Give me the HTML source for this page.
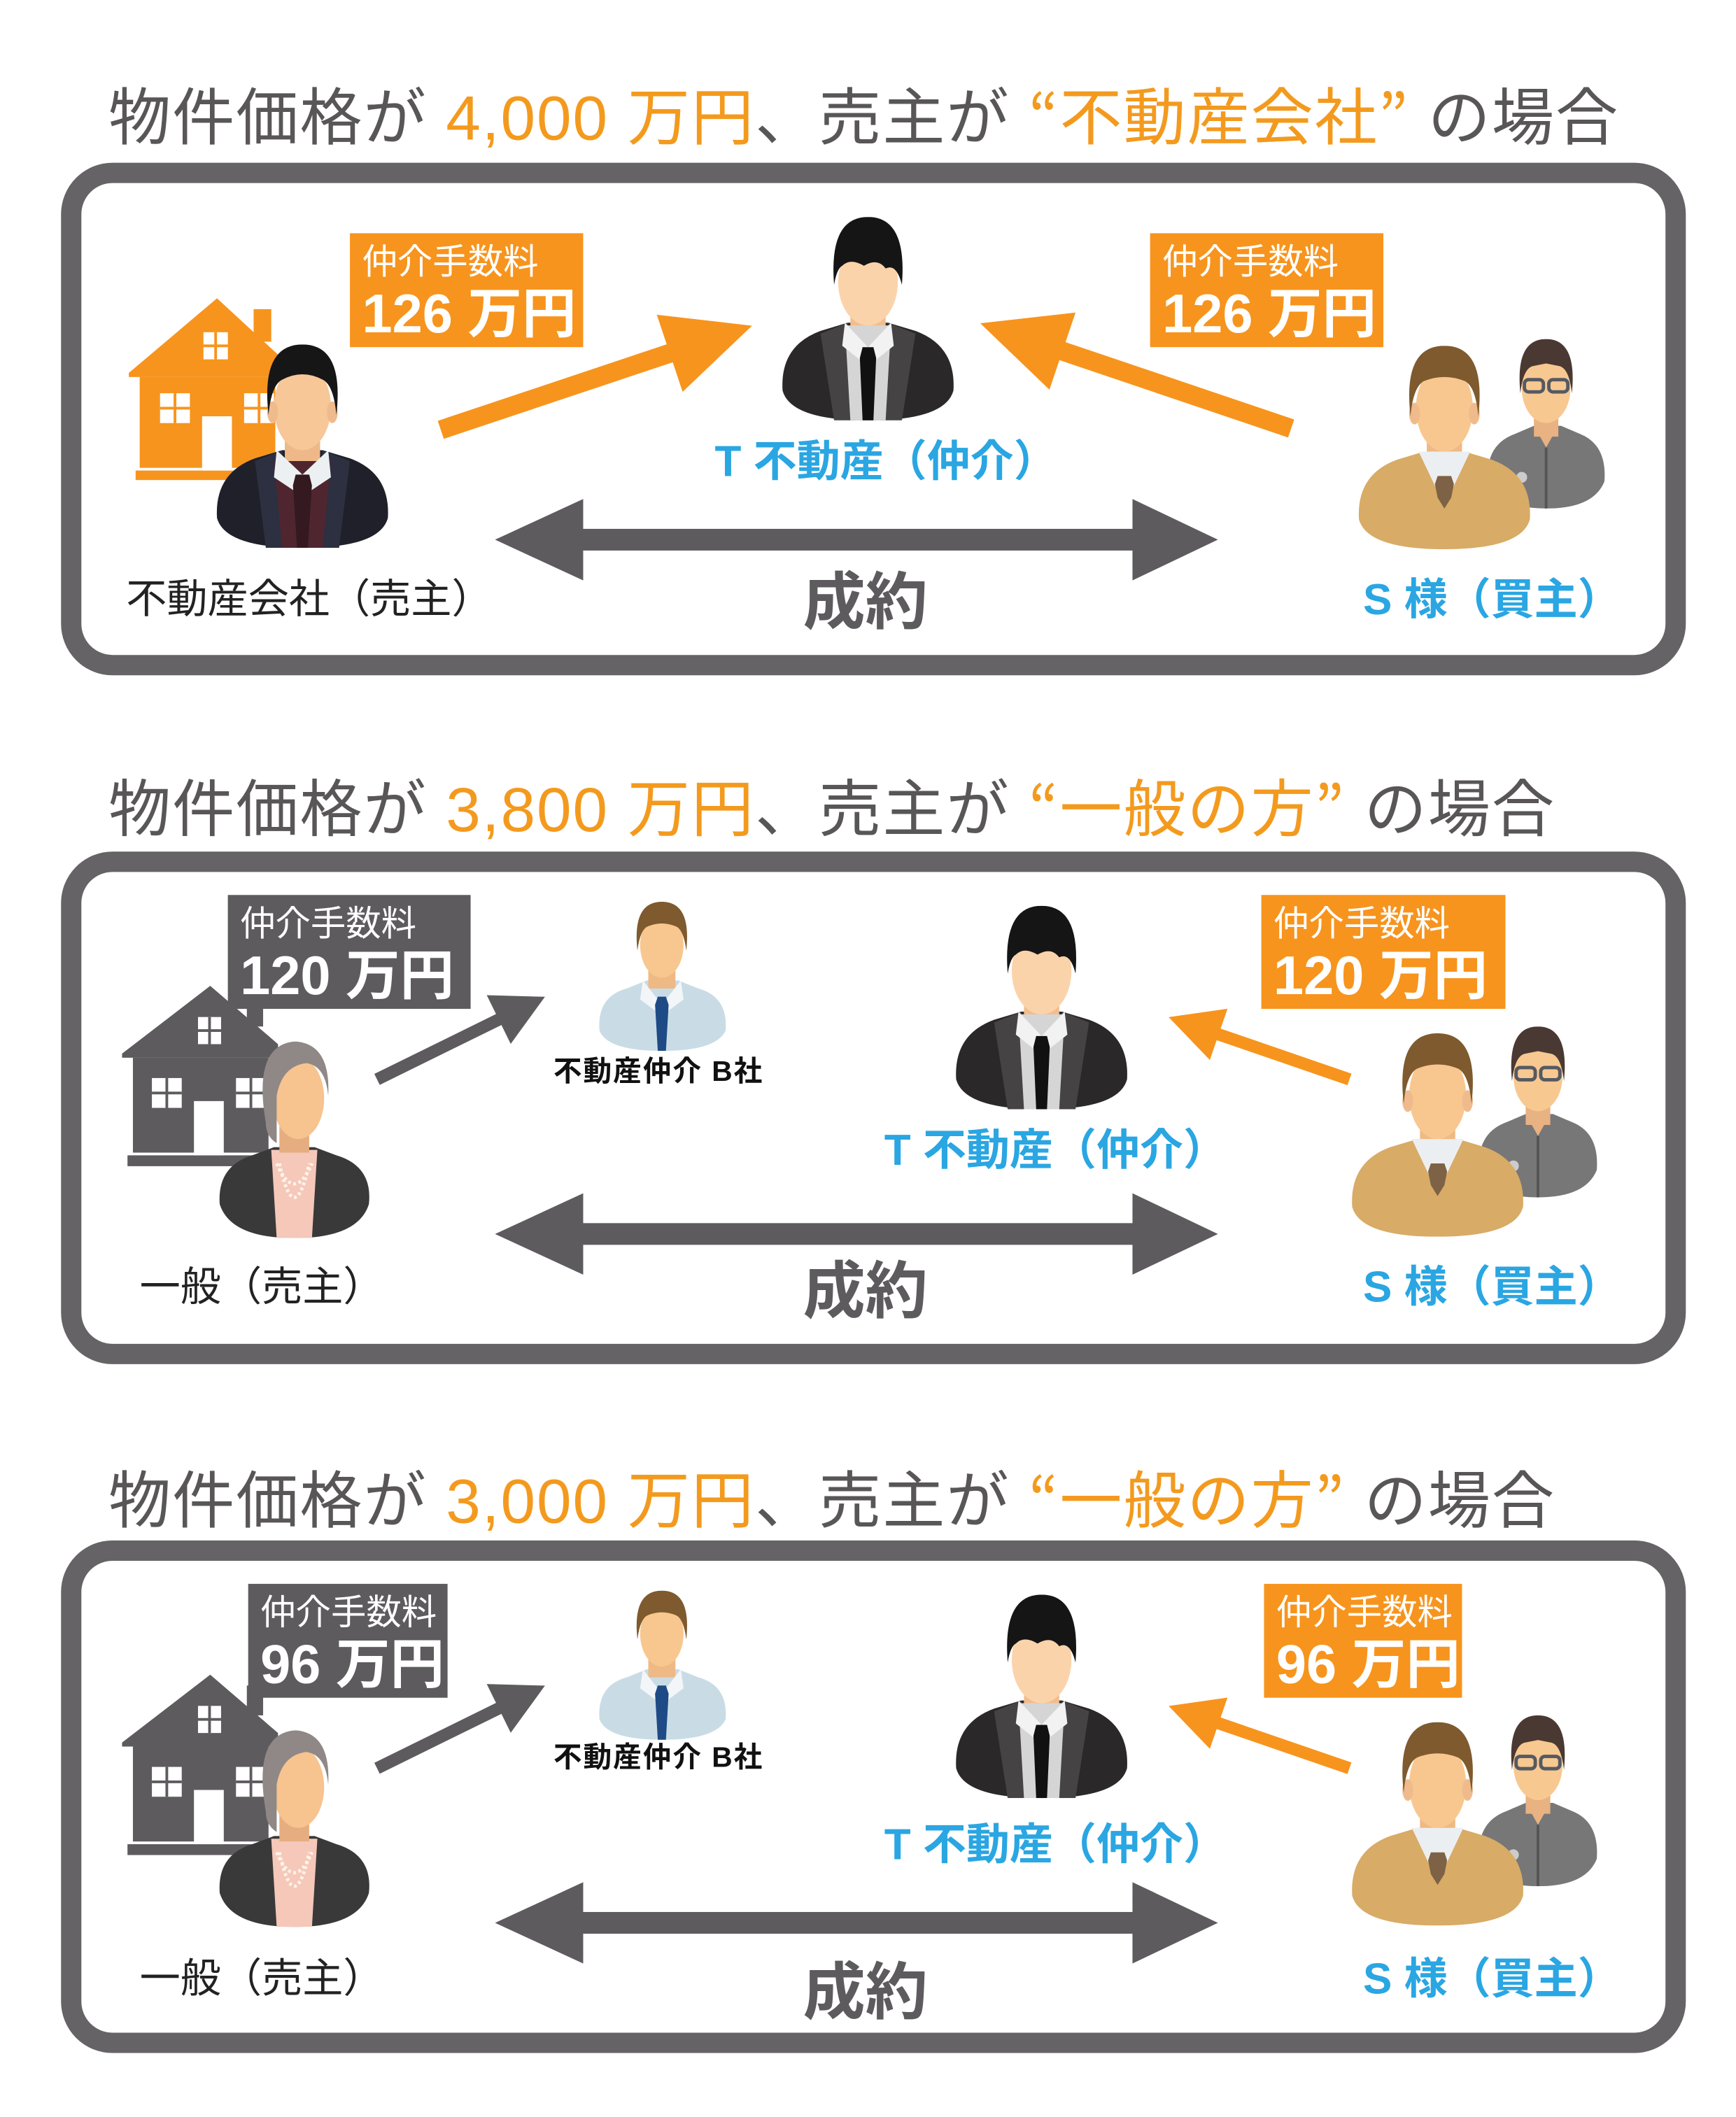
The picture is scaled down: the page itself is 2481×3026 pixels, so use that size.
<!DOCTYPE html>
<html><head><meta charset="utf-8">
<style>
html,body{margin:0;padding:0;background:#fff;}
body{width:2481px;height:3026px;overflow:hidden;position:relative;}
#s{position:absolute;left:0;top:0;width:1280px;height:1561px;transform:scale(1.93828);transform-origin:0 0;font-family:"Liberation Sans","Noto Sans CJK JP",sans-serif;}
.t{position:absolute;white-space:nowrap;line-height:1;}
.title{font-size:46px;color:#595657;left:80px;letter-spacing:1px;}
.o{color:#f39a1e;}
.q{font-family:"Noto Sans CJK JP",sans-serif;}
.fee{position:absolute;color:#fff;}
.fee .a{position:absolute;left:9px;top:8px;font-size:26px;line-height:1;white-space:nowrap;}
.fee .b{position:absolute;left:9px;top:40px;font-size:40px;font-weight:bold;line-height:1;white-space:nowrap;}
.blue{color:#2aa6e2;font-weight:bold;font-size:32px;}
.deal{color:#5e5b5f;font-weight:bold;font-size:46px;}
.sel{color:#222;font-size:30px;}
.bco{color:#111;font-weight:bold;font-size:21px;letter-spacing:1px;}
.panel{position:absolute;left:45px;width:1198px;height:378px;box-sizing:border-box;border:15px solid #666367;border-radius:38px;}
svg{position:absolute;left:0;top:0;}
</style></head><body>
<div id="s">
<svg width="1280" height="1561" viewBox="0 0 1280 1561">
<defs>
<symbol id="tman" viewBox="0 0 130 150">
<path d="M2,128 Q0,95 30,84 L50,78 L80,78 L100,84 Q130,95 128,128 Q122,150 65,150 Q8,150 2,128Z" fill="#2a2828"/>
<path d="M30,86 L50,78 L56,150 L40,150Z" fill="#454343"/><path d="M100,86 L80,78 L74,150 L90,150Z" fill="#454343"/>
<rect x="52" y="60" width="26" height="30" fill="#f2bd8e"/>
<path d="M48,80 L82,80 L78,150 L52,150Z" fill="#d5d5d5"/>
<polygon points="48,78 65,96 82,78 84,95 65,110 46,95" fill="#f2f2f2"/>
<polygon points="61,96 69,96 71,104 69,150 61,150 59,104" fill="#111"/>
<ellipse cx="65" cy="48" rx="22" ry="32" fill="#fbd3ab"/>
<path d="M40,50 Q36,0 65,0 Q94,0 90,50 Q86,34 78,38 Q72,30 62,36 Q52,30 46,36 Q42,38 40,50Z" fill="#151515"/>
</symbol>
<symbol id="sman" viewBox="0 0 130 150">
<path d="M2,128 Q0,95 30,84 L50,78 L80,78 L100,84 Q130,95 128,128 Q122,150 65,150 Q8,150 2,128Z" fill="#1f2029"/>
<path d="M30,86 L50,78 L62,150 L38,150Z" fill="#2c3040"/><path d="M100,86 L80,78 L68,150 L92,150Z" fill="#2c3040"/>
<rect x="52" y="60" width="26" height="30" fill="#eeb889"/>
<path d="M44,86 L86,86 L80,150 L50,150Z" fill="#4f2630"/>
<polygon points="46,78 65,96 84,78 86,98 65,112 44,98" fill="#edf0f2"/>
<polygon points="60,96 70,96 72,104 69,150 61,150 58,104" fill="#341a20"/>
<ellipse cx="65" cy="46" rx="21" ry="32" fill="#f7c797"/>
<ellipse cx="43" cy="50" rx="4" ry="8" fill="#f0bb8c"/><ellipse cx="87" cy="50" rx="4" ry="8" fill="#f0bb8c"/>
<path d="M40,52 Q34,0 65,0 Q96,0 90,52 Q88,30 80,26 Q65,18 50,26 Q42,30 40,52Z" fill="#171616"/>
</symbol>
<symbol id="bman" viewBox="0 0 130 150">
<path d="M2,128 Q0,95 30,84 L50,78 L80,78 L100,84 Q130,95 128,128 Q122,150 65,150 Q8,150 2,128Z" fill="#d8ab66"/>
<rect x="52" y="60" width="26" height="30" fill="#efb985"/>
<polygon points="46,78 84,78 65,118" fill="#eceff1"/>
<polygon points="60,96 70,96 72,102 70,112 65,120 60,112 58,102" fill="#7d6245"/>
<ellipse cx="65" cy="46" rx="21" ry="32" fill="#f8c78f"/>
<ellipse cx="43" cy="50" rx="4" ry="8" fill="#f0bb8c"/><ellipse cx="87" cy="50" rx="4" ry="8" fill="#f0bb8c"/>
<path d="M40,52 Q34,0 65,0 Q96,0 90,52 Q88,30 80,26 Q65,20 50,26 Q42,30 40,52Z" fill="#7e5a2e"/>
</symbol>
<symbol id="wgl" viewBox="0 0 90 125">
<path d="M2,105 Q0,78 22,70 L36,64 L56,64 L70,70 Q90,78 88,105 Q80,125 45,125 Q10,125 2,105Z" fill="#777778"/>
<rect x="36" y="48" width="18" height="24" fill="#e8b282"/>
<polygon points="36,64 45,80 54,64" fill="#e8b282"/>
<line x1="45" y1="80" x2="45" y2="125" stroke="#555" stroke-width="2"/>
<circle cx="27" cy="102" r="4" fill="#ccc"/><circle cx="27" cy="115" r="4" fill="#ccc"/>
<ellipse cx="45" cy="36" rx="18" ry="26" fill="#f8c891"/>
<path d="M26,40 Q22,0 45,0 Q68,0 64,40 Q62,22 55,20 L45,18 L35,20 Q28,22 26,40Z" fill="#4a3932"/>
<rect x="29" y="30" width="14" height="9" rx="3" fill="none" stroke="#555a62" stroke-width="2.5"/>
<rect x="47" y="30" width="14" height="9" rx="3" fill="none" stroke="#555a62" stroke-width="2.5"/>
</symbol>
<symbol id="bco" viewBox="0 0 97 110">
<path d="M2,95 Q0,70 22,64 L37,58 L60,58 L75,64 Q97,70 95,95 Q88,110 48,110 Q8,110 2,95Z" fill="#c9dce6"/>
<rect x="38" y="42" width="20" height="22" fill="#efb985"/>
<polygon points="34,58 48,76 62,58 64,72 48,84 32,72" fill="#f3f6f8"/>
<polygon points="45,70 51,70 53,76 51,110 45,110 43,76" fill="#1e4b85"/>
<ellipse cx="48" cy="32" rx="16" ry="24" fill="#f8c78f"/>
<path d="M30,36 Q26,0 48,0 Q70,0 66,36 Q64,20 58,18 Q48,14 38,18 Q32,20 30,36Z" fill="#7e5a2e"/>
</symbol>
<symbol id="old" viewBox="0 0 115 145">
<path d="M2,120 Q0,92 26,84 L42,78 L72,78 L88,84 Q115,92 112,120 Q104,145 57,145 Q10,145 2,120Z" fill="#3a3939"/>
<path d="M40,80 L74,80 L70,145 L44,145Z" fill="#f5c8ba"/>
<path d="M44,90 Q57,120 70,90" fill="none" stroke="#fff3e8" stroke-width="2.5" stroke-dasharray="2 2"/>
<path d="M46,90 Q57,140 68,90" fill="none" stroke="#fff3e8" stroke-width="2.5" stroke-dasharray="2 2"/>
<rect x="46" y="58" width="22" height="24" fill="#e6ae80"/>
<ellipse cx="60" cy="42" rx="19" ry="30" fill="#f7c38f"/>
<path d="M36,60 Q26,2 58,0 Q84,2 82,40 Q80,18 66,16 Q48,18 44,40 L44,75 Q36,70 36,60Z" fill="#8f8886"/>
</symbol>
</defs>

<g>
<polygon points="95,275 160,220 212,268 212,278 95,278" fill="#f7941d"/>
<rect x="187" y="228" width="13" height="24" fill="#f7941d"/>
<rect x="103" y="278" width="100" height="67" fill="#f7941d"/>
<rect x="100" y="347" width="105" height="7" fill="#f7941d"/>
<rect x="150" y="245" width="18" height="20" fill="#fff"/><line x1="159" y1="245" x2="159" y2="265" stroke="#f7941d" stroke-width="2"/><line x1="150" y1="255" x2="168" y2="255" stroke="#f7941d" stroke-width="2"/>
<rect x="118" y="290" width="22" height="22" fill="#fff"/><line x1="129" y1="290" x2="129" y2="312" stroke="#f7941d" stroke-width="2"/><line x1="118" y1="301" x2="140" y2="301" stroke="#f7941d" stroke-width="2"/>
<rect x="180" y="290" width="22" height="22" fill="#fff"/><line x1="191" y1="290" x2="191" y2="312" stroke="#f7941d" stroke-width="2"/><line x1="180" y1="301" x2="202" y2="301" stroke="#f7941d" stroke-width="2"/>
<rect x="149" y="307" width="22" height="40" fill="#fff"/>
<use href="#sman" x="158" y="254" width="130" height="150"/>
<use href="#tman" x="575" y="160" width="130" height="150"/>
<use href="#wgl" x="1095" y="250" width="90" height="125"/>
<use href="#bman" x="1000" y="255" width="130" height="150"/>
<g transform="translate(325,317) rotate(-18.5)" fill="#f7941d"><rect x="0" y="-7" width="190" height="14"/><polygon points="178,-30 242,0 178,30"/></g>
<g transform="translate(952,316) rotate(198.7)" fill="#f7941d"><rect x="0" y="-7" width="190" height="14"/><polygon points="178,-30 242,0 178,30"/></g>
<g fill="#5e5b5f"><rect x="420" y="390" width="425" height="16"/><polygon points="365,398 430,368 430,428"/><polygon points="898,398 835,368 835,428"/></g>
</g>

<g id="p2">
<polygon points="90,777 155,727 205,770 205,780 90,780" fill="#5e5b5f"/>
<rect x="182" y="735" width="12" height="22" fill="#5e5b5f"/>
<rect x="98" y="780" width="100" height="70" fill="#5e5b5f"/>
<rect x="94" y="852" width="108" height="8" fill="#5e5b5f"/>
<rect x="146" y="750" width="17" height="20" fill="#fff"/><line x1="154.5" y1="750" x2="154.5" y2="770" stroke="#5e5b5f" stroke-width="2"/><line x1="146" y1="760" x2="163" y2="760" stroke="#5e5b5f" stroke-width="2"/>
<rect x="112" y="795" width="22" height="22" fill="#fff"/><line x1="123" y1="795" x2="123" y2="817" stroke="#5e5b5f" stroke-width="2"/><line x1="112" y1="806" x2="134" y2="806" stroke="#5e5b5f" stroke-width="2"/>
<rect x="174" y="795" width="22" height="22" fill="#fff"/><line x1="185" y1="795" x2="185" y2="817" stroke="#5e5b5f" stroke-width="2"/><line x1="174" y1="806" x2="196" y2="806" stroke="#5e5b5f" stroke-width="2"/>
<rect x="143" y="812" width="22" height="40" fill="#fff"/>
<use href="#old" x="160" y="768" width="115" height="145"/>
<use href="#bco" x="440" y="665" width="97" height="110"/>
<use href="#tman" x="703" y="668" width="130" height="150"/>
<use href="#wgl" x="1088" y="757" width="92" height="126"/>
<use href="#bman" x="995" y="762" width="130" height="150"/>
<g transform="translate(278,796) rotate(-26.2)" fill="#5e5b5f"><rect x="0" y="-4.5" width="110" height="9"/><polygon points="100,-20 138,0 100,20"/></g>
<g transform="translate(995,796) rotate(199)" fill="#f7941d"><rect x="0" y="-4.5" width="112" height="9"/><polygon points="102,-20 141,0 102,20"/></g>
<g fill="#5e5b5f"><rect x="420" y="902" width="425" height="16"/><polygon points="365,910 430,880 430,940"/><polygon points="898,910 835,880 835,940"/></g>
</g>
<use href="#p2" x="0" y="508"/>
</svg>

<div class="panel" style="top:120px;"></div>
<div class="panel" style="top:628px;"></div>
<div class="panel" style="top:1136px;"></div>

<div class="t title" style="top:61px;">物件価格が <span class="o">4,000 万円</span>、売主が <span class="o q">“</span><span class="o">不動産会社</span><span class="o q">”</span> の場合</div>
<div class="t title" style="top:571px;">物件価格が <span class="o">3,800 万円</span>、売主が <span class="o q">“</span><span class="o">一般の方</span><span class="o q">”</span> の場合</div>
<div class="t title" style="top:1081px;">物件価格が <span class="o">3,000 万円</span>、売主が <span class="o q">“</span><span class="o">一般の方</span><span class="o q">”</span> の場合</div>

<div class="fee" style="left:258px;top:172px;width:172px;height:84px;background:#f7941d;"><div class="a">仲介手数料</div><div class="b">126 万円</div></div>
<div class="fee" style="left:848px;top:172px;width:172px;height:84px;background:#f7941d;"><div class="a">仲介手数料</div><div class="b">126 万円</div></div>
<div class="t blue" style="left:527px;top:324px;">T 不動産（仲介）</div>
<div class="t deal" style="left:592px;top:421px;">成約</div>
<div class="t sel" style="left:93px;top:428px;">不動産会社（売主）</div>
<div class="t blue" style="left:1005px;top:426px;">S 様（買主）</div>

<div class="fee" style="left:168px;top:660px;width:179px;height:84px;background:#5e5b5f;"><div class="a">仲介手数料</div><div class="b">120 万円</div></div>
<div class="fee" style="left:930px;top:660px;width:180px;height:84px;background:#f7941d;"><div class="a">仲介手数料</div><div class="b">120 万円</div></div>
<div class="t bco" style="left:408px;top:780px;">不動産仲介 B社</div>
<div class="t blue" style="left:652px;top:832px;">T 不動産（仲介）</div>
<div class="t deal" style="left:592px;top:929px;">成約</div>
<div class="t sel" style="left:103px;top:935px;">一般（売主）</div>
<div class="t blue" style="left:1005px;top:933px;">S 様（買主）</div>

<div class="fee" style="left:183px;top:1168px;width:147px;height:84px;background:#5e5b5f;"><div class="a">仲介手数料</div><div class="b">96 万円</div></div>
<div class="fee" style="left:932px;top:1168px;width:146px;height:84px;background:#f7941d;"><div class="a">仲介手数料</div><div class="b">96 万円</div></div>
<div class="t bco" style="left:408px;top:1286px;">不動産仲介 B社</div>
<div class="t blue" style="left:652px;top:1344px;">T 不動産（仲介）</div>
<div class="t deal" style="left:592px;top:1446px;">成約</div>
<div class="t sel" style="left:103px;top:1445px;">一般（売主）</div>
<div class="t blue" style="left:1005px;top:1443px;">S 様（買主）</div>
</div>
</body></html>
